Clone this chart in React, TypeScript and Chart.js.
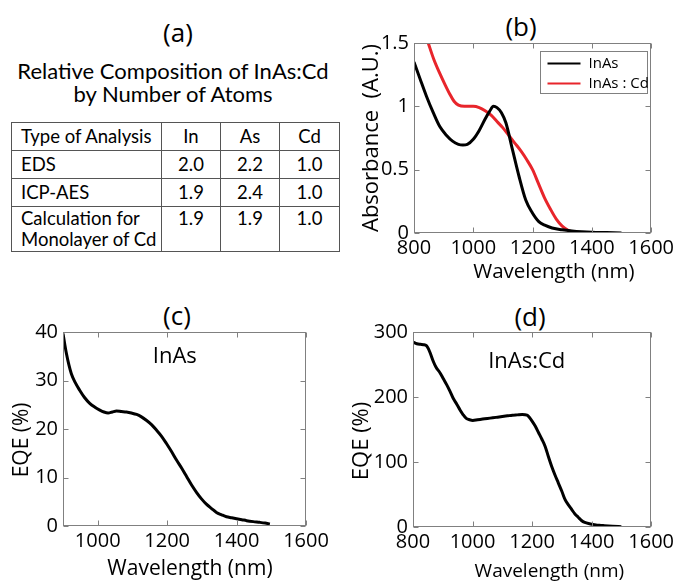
import React, { useEffect, useRef } from "react";
import { Chart, registerables } from "chart.js";
Chart.register(...registerables);

const FONT = "'Open Sans', 'Noto Sans', sans-serif";
const TABLE_FONT = "Lato, 'Open Sans', sans-serif";
const RED = "#e8252b";
const BOX = "#808080";

// ---------- (a) table ----------
const tableTitle = ["Relative Composition of InAs:Cd", "by Number of Atoms"];
const tableHeader = ["Type of Analysis", "In", "As", "Cd"];
const analysisTypes = [["EDS"], ["ICP-AES"], ["Calculation for", "Monolayer of Cd"]];
const inValues = ["2.0", "1.9", "1.9"];
const asValues = ["2.2", "2.4", "1.9"];
const cdValues = ["1.0", "1.0", "1.0"];

// ---------- (b) absorbance ----------
const absInAsWavelength = [800, 820, 842, 865, 887, 910, 930, 950, 965, 980, 1000, 1020, 1040, 1055, 1068, 1080, 1095, 1110, 1132, 1154, 1177, 1199, 1221, 1243, 1266, 1300, 1333, 1366, 1400, 1450, 1500];
const absInAs = [1.35, 1.22, 1.08, 0.95, 0.84, 0.77, 0.725, 0.70, 0.695, 0.70, 0.74, 0.81, 0.90, 0.96, 1.0, 0.99, 0.95, 0.87, 0.66, 0.45, 0.26, 0.16, 0.09, 0.06, 0.04, 0.025, 0.016, 0.01, 0.006, 0.003, 0];
const absInAsCdWavelength = [800, 825, 848, 867, 887, 905, 920, 935, 950, 970, 1000, 1020, 1040, 1060, 1080, 1100, 1120, 1140, 1160, 1180, 1200, 1220, 1240, 1260, 1280, 1300, 1320, 1340, 1355];
const absInAsCd = [1.82, 1.66, 1.5, 1.37, 1.26, 1.17, 1.10, 1.04, 1.01, 1.0, 1.0, 0.99, 0.965, 0.93, 0.88, 0.83, 0.77, 0.71, 0.65, 0.58, 0.50, 0.39, 0.28, 0.19, 0.11, 0.055, 0.022, 0.006, 0];
const absXTicks = [800, 1000, 1200, 1400, 1600];
const absYTicks = [0, 0.5, 1, 1.5];

// ---------- (c) EQE InAs ----------
const eqeInAsWavelength = [900, 905, 910, 917, 924, 935, 948, 962, 977, 992, 1006, 1018, 1030, 1042, 1054, 1068, 1083, 1097, 1112, 1126, 1140, 1155, 1169, 1184, 1198, 1213, 1227, 1242, 1256, 1270, 1285, 1299, 1313, 1328, 1342, 1357, 1371, 1386, 1400, 1415, 1429, 1448, 1467, 1482, 1496];
const eqeInAs = [39.7, 37.5, 35.5, 33.2, 31.4, 29.6, 28.0, 26.5, 25.3, 24.5, 23.9, 23.5, 23.3, 23.5, 23.7, 23.6, 23.5, 23.3, 23.0, 22.5, 21.8, 20.9, 19.8, 18.5, 17.0, 15.3, 13.6, 11.9, 10.2, 8.5, 6.9, 5.6, 4.5, 3.6, 2.8, 2.3, 1.9, 1.7, 1.5, 1.3, 1.1, 0.9, 0.75, 0.6, 0.4];
const eqeInAsXTicks = [1000, 1200, 1400, 1600];
const eqeInAsYTicks = [0, 10, 20, 30, 40];

// ---------- (d) EQE InAs:Cd ----------
const eqeInAsCdWavelength = [800, 813, 825, 835, 845, 852, 860, 868, 877, 891, 902, 913, 924, 935, 947, 958, 968, 979, 990, 1001, 1017, 1034, 1050, 1068, 1084, 1100, 1117, 1134, 1150, 1167, 1183, 1192, 1200, 1211, 1222, 1233, 1244, 1255, 1266, 1277, 1288, 1300, 1311, 1322, 1333, 1344, 1355, 1366, 1377, 1393, 1410, 1426, 1443, 1470, 1500];
const eqeInAsCd = [284.6, 282, 281, 280.5, 279, 274, 265, 255, 246, 237, 228, 219, 209, 198, 189, 180, 173, 167, 165, 164, 165, 166, 167, 168, 169, 170, 171, 172, 172.5, 173, 172, 168, 163, 155, 145, 135, 124, 108, 93, 80, 68, 55, 42, 34, 27, 20, 15, 10, 7, 5, 3.6, 2.6, 2, 1.2, 0.5];
const eqeInAsCdXTicks = [800, 1000, 1200, 1400, 1600];
const eqeInAsCdYTicks = [0, 100, 200, 300];

const zip = (xs: number[], ys: number[]) => xs.map((x, i) => ({ x, y: ys[i] }));

// MATLAB-like box with inward ticks on all sides
const matlabBox = {
  id: "matlabBox",
  afterDatasetsDraw(chart: any) {
    const { ctx, chartArea: a, scales } = chart;
    ctx.save();
    ctx.strokeStyle = BOX;
    ctx.lineWidth = 1;
    const L = Math.round(a.left) + 0.5, R = Math.round(a.right) - 0.5;
    const T = Math.round(a.top) + 0.5, B = Math.round(a.bottom) - 0.5;
    ctx.strokeRect(L, T, R - L, B - T);
    const tl = 5;
    ctx.beginPath();
    for (const t of scales.x.ticks) {
      const px = Math.round(scales.x.getPixelForValue(t.value)) + 0.5;
      ctx.moveTo(px, B); ctx.lineTo(px, B - tl);
      ctx.moveTo(px, T); ctx.lineTo(px, T + tl);
    }
    for (const t of scales.y.ticks) {
      const py = Math.round(scales.y.getPixelForValue(t.value)) + 0.5;
      ctx.moveTo(L, py); ctx.lineTo(L + tl, py);
      ctx.moveTo(R, py); ctx.lineTo(R - tl, py);
    }
    ctx.stroke();
    ctx.restore();
  },
};

const annotationText = {
  id: "annotationText",
  afterDatasetsDraw(chart: any, _args: any, opts: any) {
    if (!opts || !opts.text) return;
    const { ctx, scales } = chart;
    ctx.save();
    ctx.fillStyle = "#000";
    ctx.font = `${opts.size}px ${FONT}`;
    ctx.textAlign = "center";
    ctx.textBaseline = "middle";
    ctx.fillText(opts.text, scales.x.getPixelForValue(opts.x), scales.y.getPixelForValue(opts.y));
    ctx.restore();
  },
};

const boxLegend = {
  id: "boxLegend",
  afterDatasetsDraw(chart: any, _args: any, opts: any) {
    if (!opts || !opts.show) return;
    const { ctx, chartArea: a } = chart;
    const w = 107, h = 42;
    const left = Math.round(a.right - 4 - w) + 0.5;
    const top = Math.round(a.top + 8) + 0.5;
    ctx.save();
    ctx.fillStyle = "#fff";
    ctx.fillRect(left, top, w, h);
    ctx.strokeStyle = BOX;
    ctx.lineWidth = 1;
    ctx.strokeRect(left, top, w, h);
    ctx.font = `15px ${FONT}`;
    ctx.textBaseline = "middle";
    ctx.textAlign = "left";
    chart.data.datasets.forEach((ds: any, i: number) => {
      const y = top + 12 + i * 20;
      ctx.strokeStyle = ds.borderColor;
      ctx.lineWidth = 2;
      ctx.beginPath();
      ctx.moveTo(left + 7, y);
      ctx.lineTo(left + 40, y);
      ctx.stroke();
      ctx.fillStyle = "#000";
      ctx.fillText(ds.label, left + 48, y);
    });
    ctx.restore();
  },
};

type PanelOpts = {
  xMin: number; xMax: number; xTicks: number[];
  yMin: number; yMax: number; yTicks: number[];
  yTitle: string; yTitleSize: number; yTitlePad: number;
  xTitle: string; xTitleSize: number; xTitlePad: number;
  leftWidth: number; bottomHeight: number; padTop: number; padRight: number;
  annotation?: any; legend?: boolean;
};

function makeOptions(p: PanelOpts) {
  return {
    responsive: false,
    animation: false,
    layout: { padding: { top: p.padTop, right: p.padRight, left: 0, bottom: 0 } },
    elements: { point: { radius: 0 }, line: { borderWidth: 3, cubicInterpolationMode: "monotone" } },
    plugins: {
      legend: { display: false },
      title: { display: false },
      tooltip: { enabled: false },
      annotationText: p.annotation || {},
      boxLegend: { show: !!p.legend },
    },
    scales: {
      x: {
        type: "linear",
        min: p.xMin,
        max: p.xMax,
        afterBuildTicks: (s: any) => { s.ticks = p.xTicks.map((v) => ({ value: v })); },
        afterFit: (s: any) => { s.height = p.bottomHeight; },
        grid: { display: false, drawTicks: false },
        border: { display: false },
        ticks: { padding: 3, color: "#000", autoSkip: false, maxRotation: 0, font: { size: 20, family: FONT }, callback: (v: any) => String(v) },
        title: { display: true, text: p.xTitle, color: "#000", font: { size: p.xTitleSize, family: FONT }, padding: { top: 0, bottom: p.xTitlePad } },
      },
      y: {
        type: "linear",
        min: p.yMin,
        max: p.yMax,
        afterBuildTicks: (s: any) => { s.ticks = p.yTicks.map((v) => ({ value: v })); },
        afterFit: (s: any) => { s.width = p.leftWidth; },
        grid: { display: false, drawTicks: false },
        border: { display: false },
        ticks: { padding: 5, color: "#000", autoSkip: false, font: { size: 20, family: FONT }, callback: (v: any) => String(v) },
        title: { display: true, text: p.yTitle, color: "#000", font: { size: p.yTitleSize, family: FONT }, padding: { top: p.yTitlePad, bottom: 0 } },
      },
    },
  };
}

function ChartCanvas({ left, top, width, height, build }: { left: number; top: number; width: number; height: number; build: () => any }) {
  const ref = useRef<HTMLCanvasElement>(null);
  useEffect(() => {
    const chart = new Chart(ref.current as HTMLCanvasElement, build());
    return () => chart.destroy();
  }, []);
  return <canvas ref={ref} width={width} height={height} style={{ position: "absolute", left, top, width, height }} />;
}

const buildB = () => ({
  type: "line",
  data: {
    datasets: [
      { label: "InAs", data: zip(absInAsWavelength, absInAs), borderColor: "#000", backgroundColor: "#000" },
      { label: "InAs : Cd", data: zip(absInAsCdWavelength, absInAsCd), borderColor: RED, backgroundColor: RED },
    ],
  },
  options: makeOptions({
    xMin: 800, xMax: 1600, xTicks: absXTicks,
    yMin: 0, yMax: 1.5, yTicks: absYTicks,
    yTitle: "Absorbance  (A.U.)", yTitleSize: 22, yTitlePad: 19,
    xTitle: "        Wavelength (nm)", xTitleSize: 20.5, xTitlePad: 6,
    leftWidth: 74, bottomHeight: 57, padTop: 43, padRight: 24,
    legend: true,
  }),
  plugins: [matlabBox, boxLegend],
});

const buildC = () => ({
  type: "line",
  data: {
    datasets: [{ label: "InAs", data: zip(eqeInAsWavelength, eqeInAs), borderColor: "#000", backgroundColor: "#000" }],
  },
  options: makeOptions({
    xMin: 900, xMax: 1600, xTicks: eqeInAsXTicks,
    yMin: 0, yMax: 40, yTicks: eqeInAsYTicks,
    yTitle: "EQE (%)    ", yTitleSize: 21, yTitlePad: 9,
    xTitle: "  Wavelength (nm)", xTitleSize: 21, xTitlePad: 1,
    leftWidth: 63, bottomHeight: 57, padTop: 42, padRight: 34,
    annotation: { text: "InAs", x: 1222, y: 34.8, size: 22 },
  }),
  plugins: [matlabBox, annotationText],
});

const buildD = () => ({
  type: "line",
  data: {
    datasets: [{ label: "InAs:Cd", data: zip(eqeInAsCdWavelength, eqeInAsCd), borderColor: "#000", backgroundColor: "#000" }],
  },
  options: makeOptions({
    xMin: 800, xMax: 1600, xTicks: eqeInAsCdXTicks,
    yMin: 0, yMax: 300, yTicks: eqeInAsCdYTicks,
    yTitle: "EQE (%)    ", yTitleSize: 22, yTitlePad: 9,
    xTitle: "       Wavelength (nm)", xTitleSize: 19, xTitlePad: 0,
    leftWidth: 73, bottomHeight: 56, padTop: 42, padRight: 23,
    annotation: { text: "InAs:Cd", x: 1182, y: 255, size: 22 },
  }),
  plugins: [matlabBox, annotationText],
});

const panelLabel = (text: string, x: number, y: number) => (
  <div style={{ position: "absolute", left: x, top: y, transform: "translate(-50%, -50%)", font: `26px ${FONT}`, lineHeight: "1", whiteSpace: "nowrap", color: "#000" }}>{text}</div>
);

const colWidths = [150, 59, 59, 60];
const rowHeights = [28, 28, 28, 45];

function CompositionTable() {
  const border = "1px solid #555";
  const cell = (content: React.ReactNode, w: number, h: number, first: boolean, top: boolean) => (
    <td style={{ width: w, height: h, border, padding: 0, paddingLeft: first ? 9 : 0, textAlign: first ? "left" : "center", verticalAlign: top ? "top" : "middle", boxSizing: "border-box", lineHeight: "21px", paddingTop: top ? 1 : 0 }}>{content}</td>
  );
  return (
    <table style={{ position: "absolute", left: 11, top: 122, borderCollapse: "collapse", tableLayout: "fixed", font: `18.5px ${TABLE_FONT}`, color: "#000" }}>
      <tbody>
        <tr>{tableHeader.map((h, i) => cell(h, colWidths[i], rowHeights[0], i === 0, false))}</tr>
        {analysisTypes.map((lines, r) => {
          const top = lines.length > 1;
          return (
            <tr key={r}>
              {cell(lines.map((l, k) => <div key={k}>{l}</div>), colWidths[0], rowHeights[r + 1], true, top)}
              {cell(inValues[r], colWidths[1], rowHeights[r + 1], false, top)}
              {cell(asValues[r], colWidths[2], rowHeights[r + 1], false, top)}
              {cell(cdValues[r], colWidths[3], rowHeights[r + 1], false, top)}
            </tr>
          );
        })}
      </tbody>
    </table>
  );
}

export default function App() {
  return (
    <div style={{ position: "absolute", left: 0, top: 0, width: 677, height: 583, background: "#fff", overflow: "hidden" }}>
      {panelLabel("(a)", 178, 32)}
      {tableTitle.map((t, i) => (
        <div key={i} style={{ position: "absolute", left: 173, top: 71 + i * 23, transform: "translate(-50%, -50%)", font: `22px ${TABLE_FONT}`, lineHeight: "1", whiteSpace: "nowrap", color: "#000" }}>{t}</div>
      ))}
      <CompositionTable />
      {panelLabel("(b)", 521, 26)}
      {panelLabel("(c)", 177, 315)}
      {panelLabel("(d)", 530, 316)}
      <ChartCanvas left={340} top={0} width={337} height={290} build={buildB} />
      <ChartCanvas left={0} top={290} width={340} height={293} build={buildC} />
      <ChartCanvas left={340} top={290} width={337} height={293} build={buildD} />
    </div>
  );
}
